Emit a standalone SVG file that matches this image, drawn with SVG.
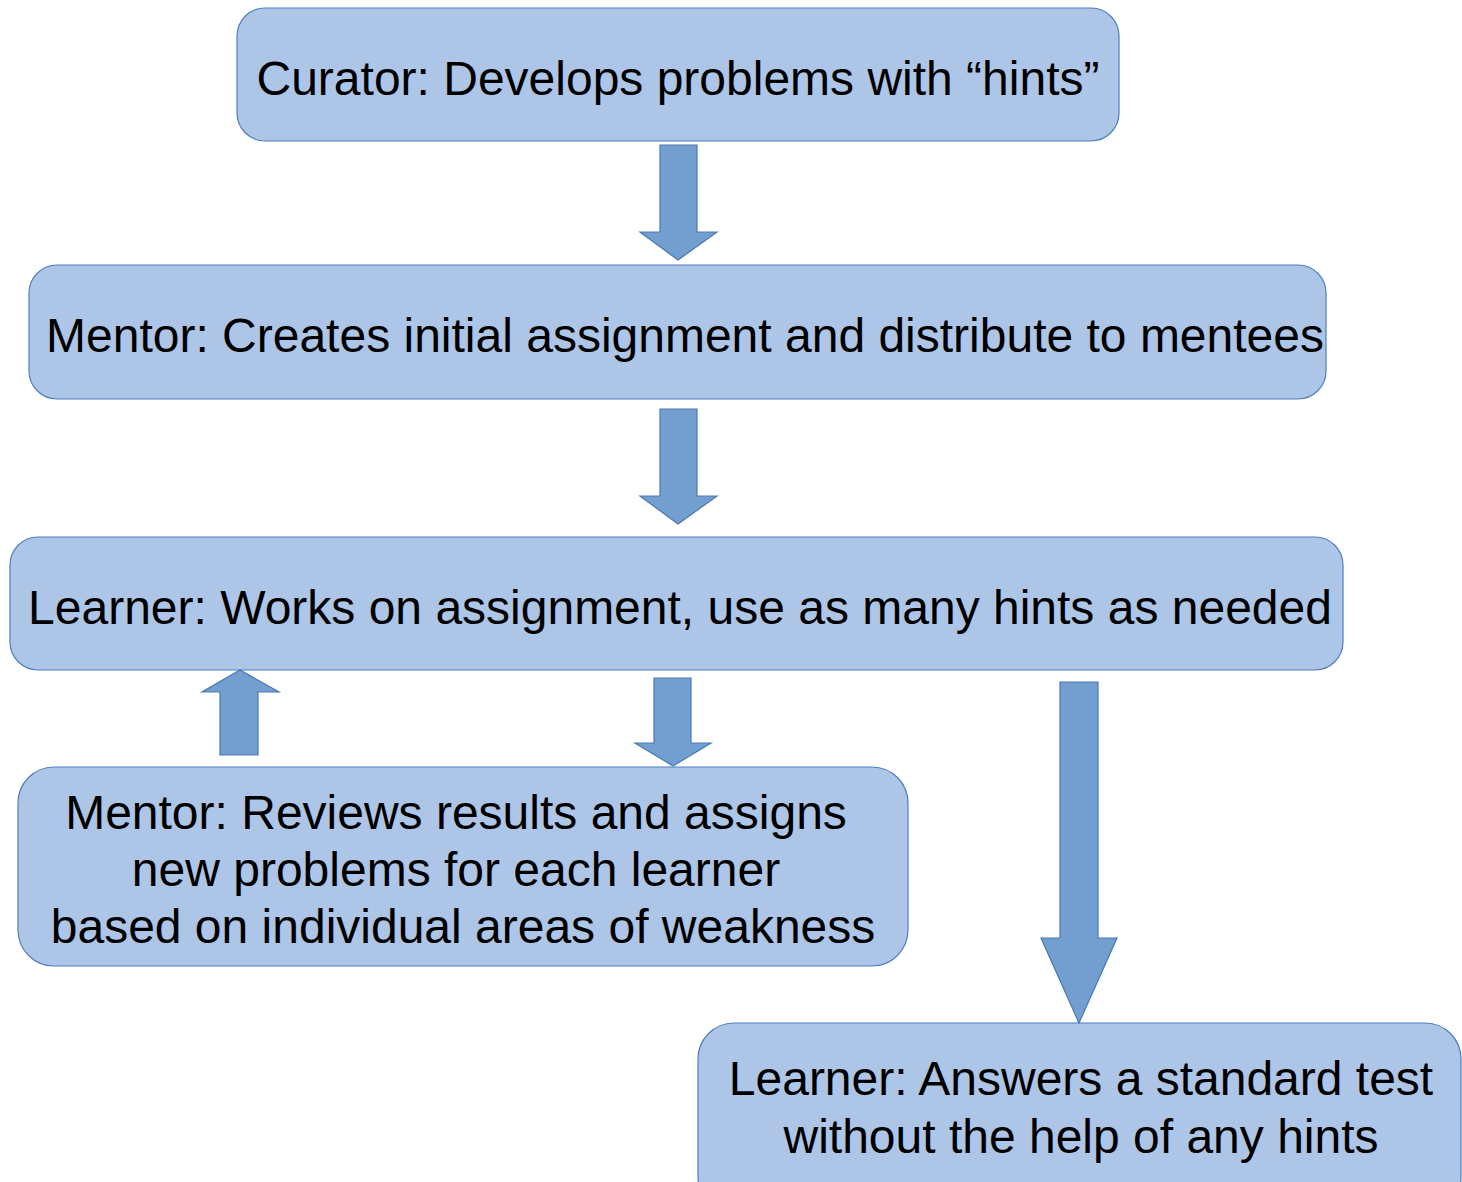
<svg xmlns="http://www.w3.org/2000/svg" width="1462" height="1182" viewBox="0 0 1462 1182">
<style>
.box{fill:#adc5e7;stroke:#4f7fbc;stroke-width:1.2}
.arr{fill:#729fcf;stroke:#4a78b3;stroke-width:1.2}
text{font-family:"Liberation Sans",Arial,sans-serif;font-size:48px;fill:#000;text-anchor:middle}
</style>
<rect width="1462" height="1182" fill="#fff"/>
<g id="n1"><rect class="box" x="237" y="8" width="882" height="133" rx="28"/><text x="678" y="95">Curator: Develops problems with “hints”</text></g>
<g id="n2"><rect class="box" x="29" y="265" width="1297" height="134" rx="28"/><text x="685" y="352">Mentor: Creates initial assignment and distribute to mentees</text></g>
<g id="n3"><rect class="box" x="10" y="537" width="1333" height="133" rx="28"/><text x="680" y="624">Learner: Works on assignment, use as many hints as needed</text></g>
<g id="n4"><rect class="box" x="18" y="767" width="890" height="199" rx="36"/><text x="456" y="829">Mentor: Reviews results and assigns</text><text x="456" y="886">new problems for each learner</text><text x="463" y="943">based on individual areas of weakness</text></g>
<g id="n5"><rect class="box" x="698" y="1023" width="763" height="190" rx="36"/><text x="1081" y="1095">Learner: Answers a standard test</text><text x="1081" y="1153">without the help of any hints</text></g>
<g id="connectors">
<polygon class="arr" points="660,145 697,145 697,232 717,232 678,260 640,232 660,232"/>
<polygon class="arr" points="660,409 697,409 697,496 717,496 678,524 640,496 660,496"/>
<polygon class="arr" points="220,755 258,755 258,692 279,692 240,670 202,692 220,692"/>
<polygon class="arr" points="654,678 691,678 691,743 711,743 673,766 635,743 654,743"/>
<polygon class="arr" points="1060,682 1098,682 1098,938 1117,938 1079,1023 1041,938 1060,938"/>
</g>
</svg>
